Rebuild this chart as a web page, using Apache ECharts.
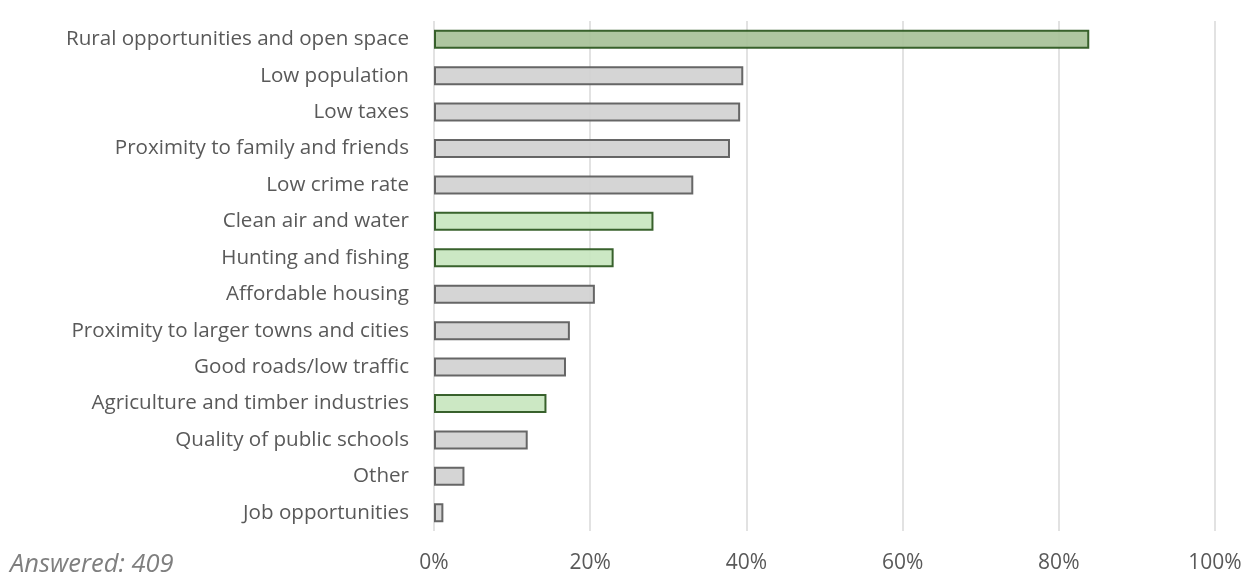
<!DOCTYPE html>
<html>
<head>
<meta charset="utf-8">
<script src="https://cdn.jsdelivr.net/npm/echarts@6/dist/echarts.min.js"></script>
<style>
  html, body { margin: 0; padding: 0; background: #fff; }
  #main { width: 1254px; height: 581px; }
</style>
</head>
<body>
<div id="main"></div>
<script>
// data (percent of respondents)
const categories = [
  'Rural opportunities and open space',
  'Low population',
  'Low taxes',
  'Proximity to family and friends',
  'Low crime rate',
  'Clean air and water',
  'Hunting and fishing',
  'Affordable housing',
  'Proximity to larger towns and cities',
  'Good roads/low traffic',
  'Agriculture and timber industries',
  'Quality of public schools',
  'Other',
  'Job opportunities'
]
const values = [83.9, 39.6, 39.2, 37.9, 33.2, 28.1, 23.0, 20.6, 17.4, 16.9, 14.4, 12.0, 3.9, 1.2]
const topPick = ['Rural opportunities and open space']
const natureRelated = ['Clean air and water', 'Hunting and fishing', 'Agriculture and timber industries']
const tickLabels = ['0%', '20%', '40%', '60%', '80%', '100%']
const answered = 'Answered: 409'

const txt = '#595959'

// green for the nature-ish answers, grey for the rest
function styleFor(name) {
  if (topPick.includes(name)) return { color: '#aac39b', borderColor: '#2f5a23', borderWidth: 2, opacity: 0.95 }
  if (natureRelated.includes(name)) return { color: '#c9e7c1', borderColor: '#2f5a23', borderWidth: 2, opacity: 0.95 }
  return { color: '#d3d3d3', borderColor: '#5f5f5f', borderWidth: 2, opacity: 0.95 }
}

let myChart = echarts.init(document.getElementById('main'))

let option = {
  animation: false,
  grid: { left: 434, right: 39, top: 21, bottom: 50, containLabel: false },
  xAxis: {
    type: 'value',
    min: 0,
    max: 100,
    interval: 20,
    axisLine: { show: false },
    axisTick: { show: false },
    splitLine: { show: true, lineStyle: { color: '#d9d9d9', width: 1.5 } },
    axisLabel: {
      color: txt,
      fontFamily: 'Open Sans',
      fontSize: 21,
      margin: 22,
      formatter: (v) => tickLabels[Math.round(v / 20)]
    }
  },
  yAxis: {
    type: 'category',
    inverse: true,
    data: categories,
    axisLine: { show: false },
    axisTick: { show: false },
    axisLabel: {
      color: txt,
      fontFamily: 'Open Sans',
      fontSize: 20.6,
      margin: 25
    }
  },
  series: [
    {
      type: 'bar',
      barWidth: 19,
      data: values.map((v, i) => ({ value: v, itemStyle: styleFor(categories[i]) }))
    }
  ],
  graphic: [
    {
      type: 'text',
      left: 10,
      top: 552,
      style: {
        text: answered,
        fill: '#7f7f7f',
        font: 'italic 25.5px "Open Sans"'
      }
    }
  ]
}

myChart.setOption(option)
</script>
</body>
</html>
